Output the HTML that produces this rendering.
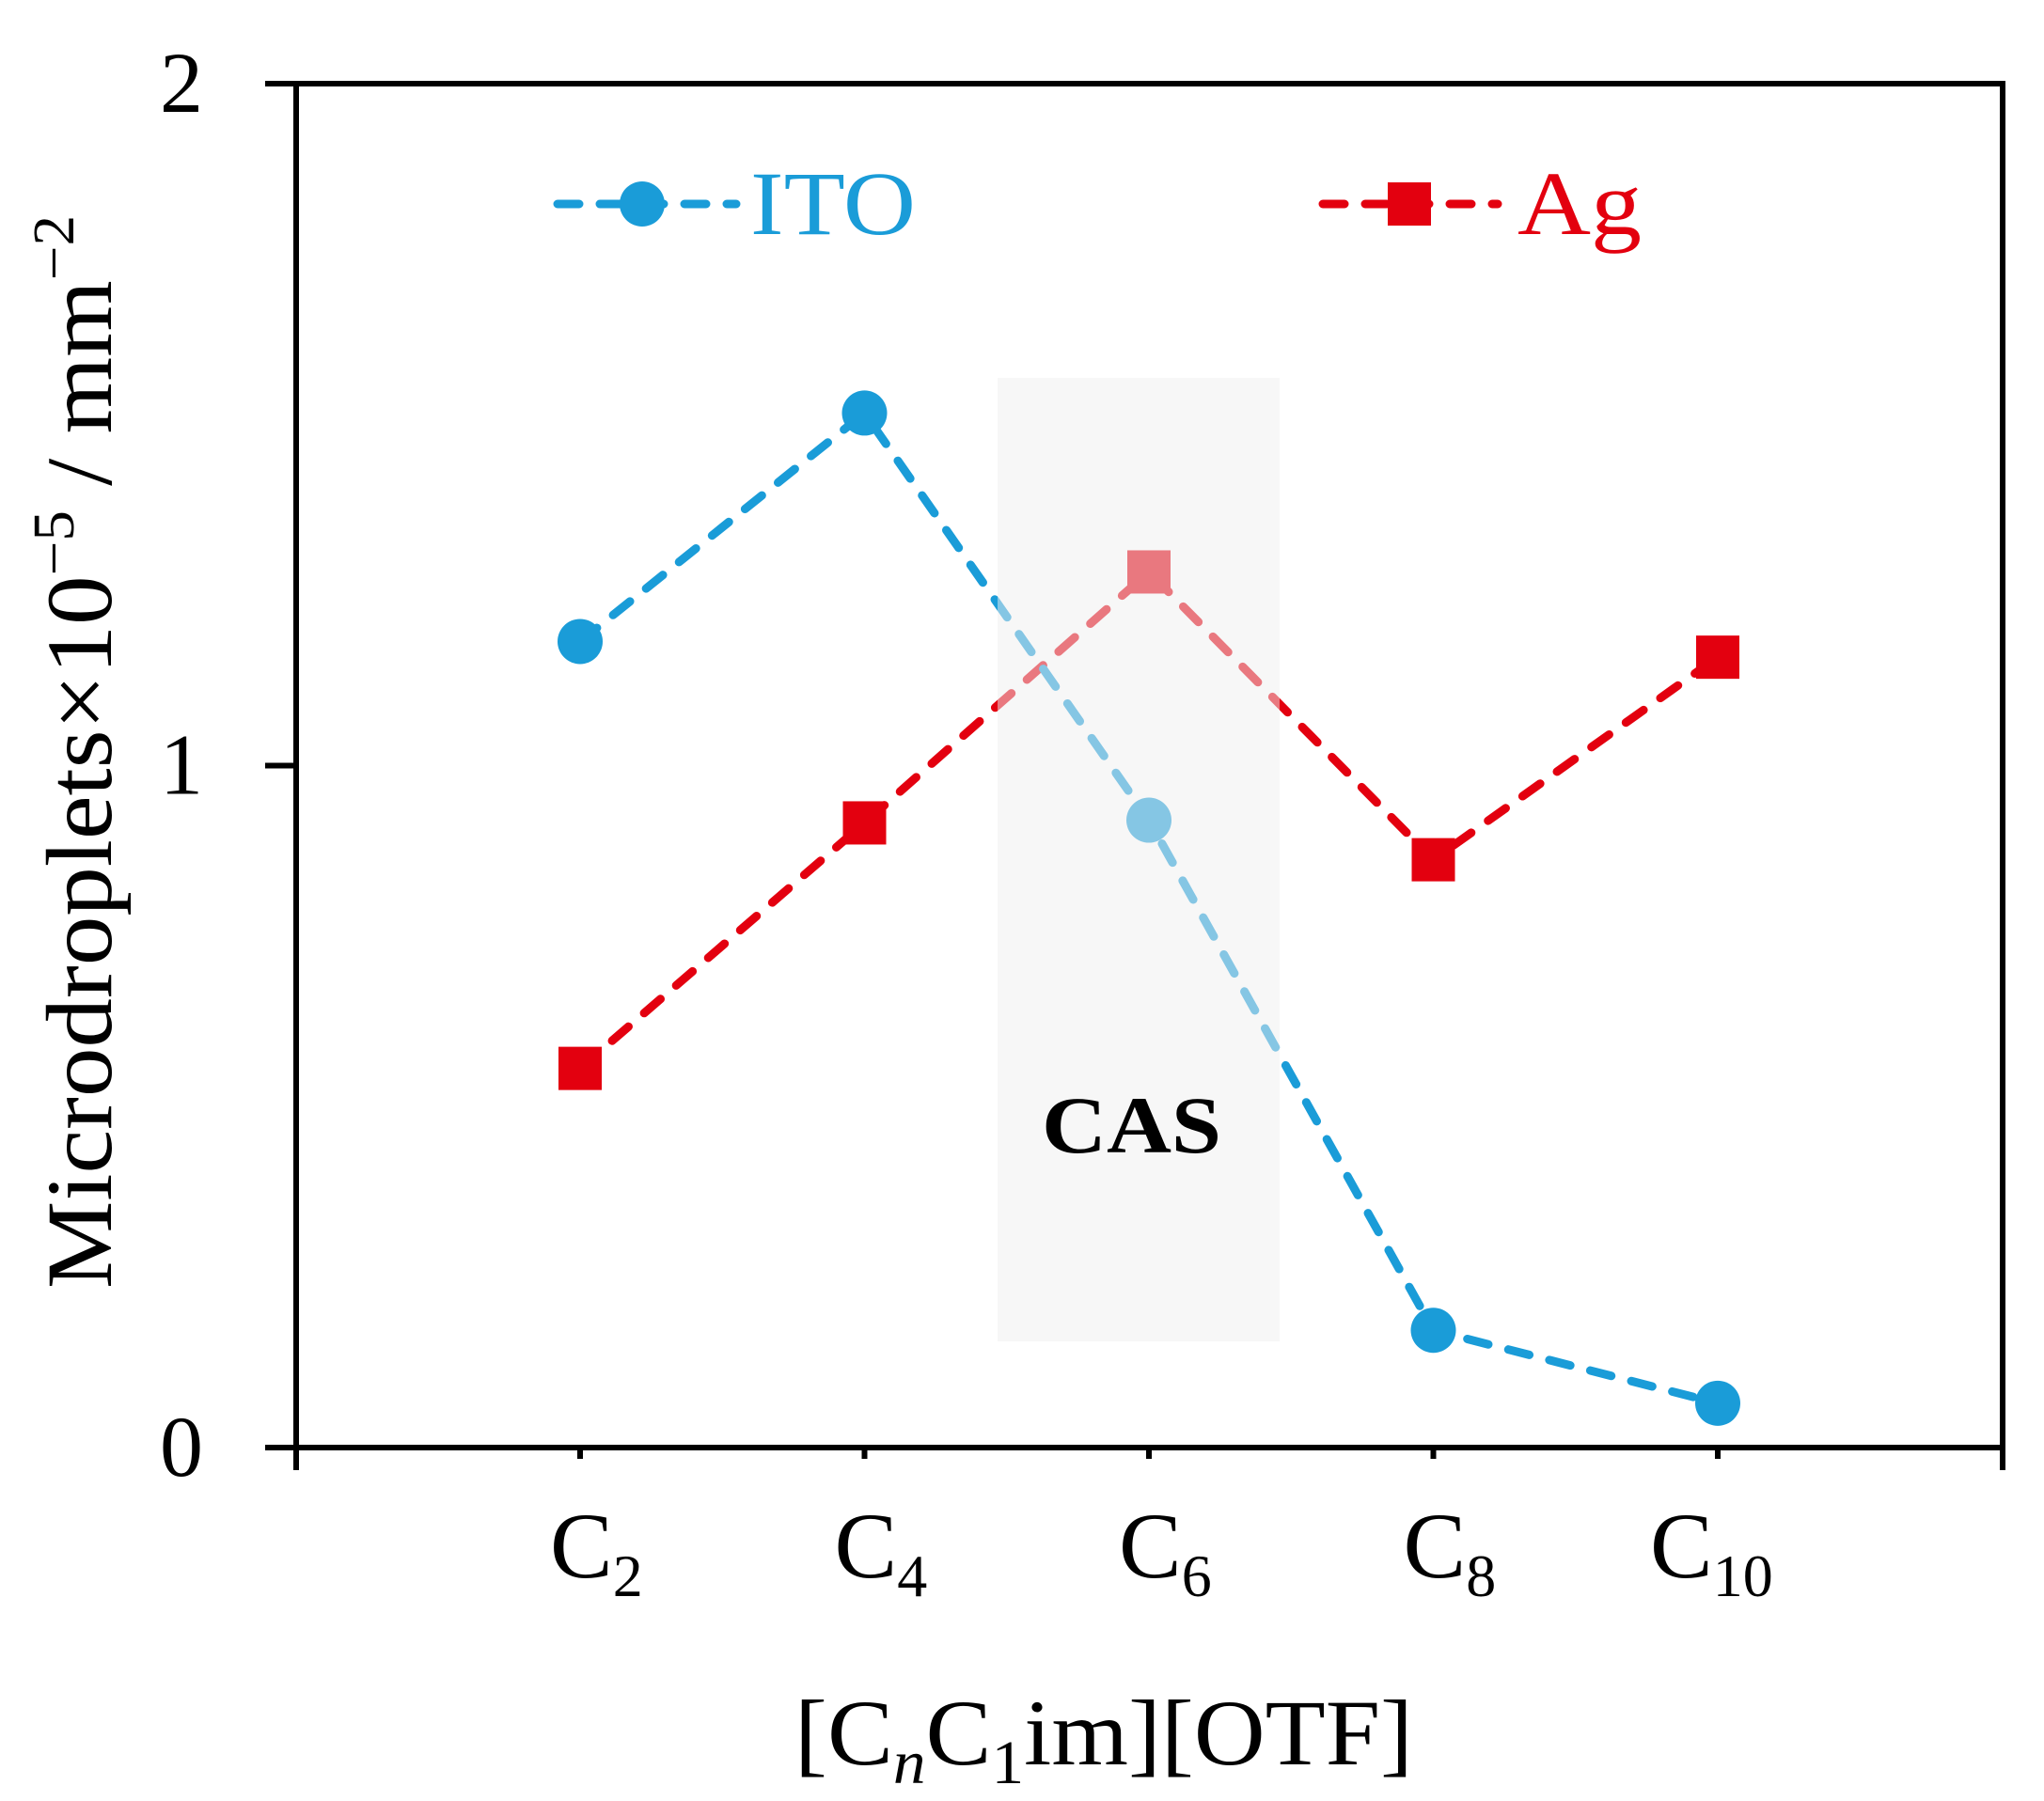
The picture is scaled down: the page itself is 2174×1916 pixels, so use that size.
<!DOCTYPE html>
<html><head><meta charset="utf-8"><style>
html,body{margin:0;padding:0;background:#fff;}
svg{display:block;font-family:"Liberation Serif",serif;}
</style></head><body>
<svg id="chart" width="2174" height="1916" viewBox="0 0 2174 1916" xmlns="http://www.w3.org/2000/svg">
<g id="plot"></g>
</svg>
<script>
const categories = ["2","4","6","8","10"];
const itoValues = [1.182, 1.517, 0.920, 0.172, 0.065];
const agValues = [0.556, 0.916, 1.284, 0.862, 1.159];
const yTicks = [0, 1, 2];

const NS = "http://www.w3.org/2000/svg";
const g = document.getElementById("plot");
const X0 = 315, X1 = 2130, Y0 = 1540, Y2 = 89;
const xs = i => 617 + i * 302.5;
const ys = v => Y0 - v * (Y0 - Y2) / 2;
function el(tag, attrs, parent) {
  const e = document.createElementNS(NS, tag);
  for (const k in attrs) e.setAttribute(k, attrs[k]);
  (parent || g).appendChild(e);
  return e;
}
const DASH = {"stroke-width": 9, "stroke-dasharray": "23 22", "stroke-linecap": "round", fill: "none"};

function series(vals, color, kind, name) {
  const pts = vals.map((v, i) => xs(i) + "," + ys(v)).join(" ");
  const line = el("polyline", Object.assign({points: pts, stroke: color}, DASH));
  
  
  vals.forEach((v, i) => {
    let m;
    if (kind === "circle") m = el("circle", {cx: xs(i), cy: ys(v), r: 24, fill: color});
    else m = el("rect", {x: xs(i) - 23, y: ys(v) - 23, width: 46, height: 46, fill: color});
    
    
  });
}
series(agValues, "#e3000f", "square", "ag");
series(itoValues, "#1a9cd8", "circle", "ito");

const shade = el("rect", {x: 1061, y: 402, width: 300, height: 1025, fill: "#f0f0f0", "fill-opacity": 0.5});


const cas = el("text", {x: 1108, y: 1226, "font-size": 86, "font-weight": "bold", fill: "#000", textLength: 191, lengthAdjust: "spacingAndGlyphs"});
cas.textContent = "CAS";



const box = el("rect", {x: X0, y: Y2, width: X1 - X0, height: Y0 - Y2, fill: "none", stroke: "#000", "stroke-width": 6});


yTicks.forEach(t => {
  const tk = el("line", {x1: 282, x2: X0, y1: ys(t), y2: ys(t), stroke: "#000", "stroke-width": 6});
  
  
  const lb = el("text", {x: 216, y: ys(t) + 30, "font-size": 92, "text-anchor": "end", fill: "#000"});
  lb.textContent = String(t);
  
  
});
[X0, X1].forEach((x, k) => {
  const tk = el("line", {x1: x, x2: x, y1: Y0, y2: Y0 + 24, stroke: "#000", "stroke-width": 6});
  
  
});
categories.forEach((c, i) => {
  const tk = el("line", {x1: xs(i), x2: xs(i), y1: Y0, y2: Y0 + 12, stroke: "#000", "stroke-width": 6});
  
  
  const lb = el("text", {x: xs(i) - (c.length > 1 ? 72 : 32), y: 1678, "font-size": 100, fill: "#000"});
  lb.innerHTML = 'C<tspan dy="20" font-size="64">' + c + '</tspan>';
  
  
});

const xt = el("text", {x: 845, y: 1877, "font-size": 100, fill: "#000", textLength: 658, lengthAdjust: "spacingAndGlyphs"});
xt.innerHTML = '[C<tspan dy="20" font-size="66" font-style="italic">n</tspan><tspan dy="-20">C</tspan><tspan dy="20" font-size="66">1</tspan><tspan dy="-20">im][OTF]</tspan>';


const yt = el("text", {x: -1371, y: 118, "font-size": 100, fill: "#000", transform: "rotate(-90)", textLength: 1142, lengthAdjust: "spacingAndGlyphs"});
yt.innerHTML = 'Microdroplets×10<tspan dy="-40" font-size="62">−5</tspan><tspan dy="40"> / mm</tspan><tspan dy="-40" font-size="62">−2</tspan>';



function legend(x1, x2, mx, tx, tw, color, kind, label, name) {
  const lg = el("g", {});
  
  
  el("line", Object.assign({x1: x1, x2: x2, y1: 217, y2: 217, stroke: color}, DASH), lg);
  if (kind === "circle") el("circle", {cx: mx, cy: 217, r: 24, fill: color}, lg);
  else el("rect", {x: mx - 23, y: 194, width: 46, height: 46, fill: color}, lg);
  const t = el("text", {x: tx, y: 249, "font-size": 96, fill: color, textLength: tw, lengthAdjust: "spacingAndGlyphs"}, lg);
  t.textContent = label;
}
legend(593, 783, 683, 798, 176, "#1a9cd8", "circle", "ITO", "ito");
legend(1407, 1593, 1499, 1614, 132, "#e3000f", "square", "Ag", "ag");
</script>
</body></html>
